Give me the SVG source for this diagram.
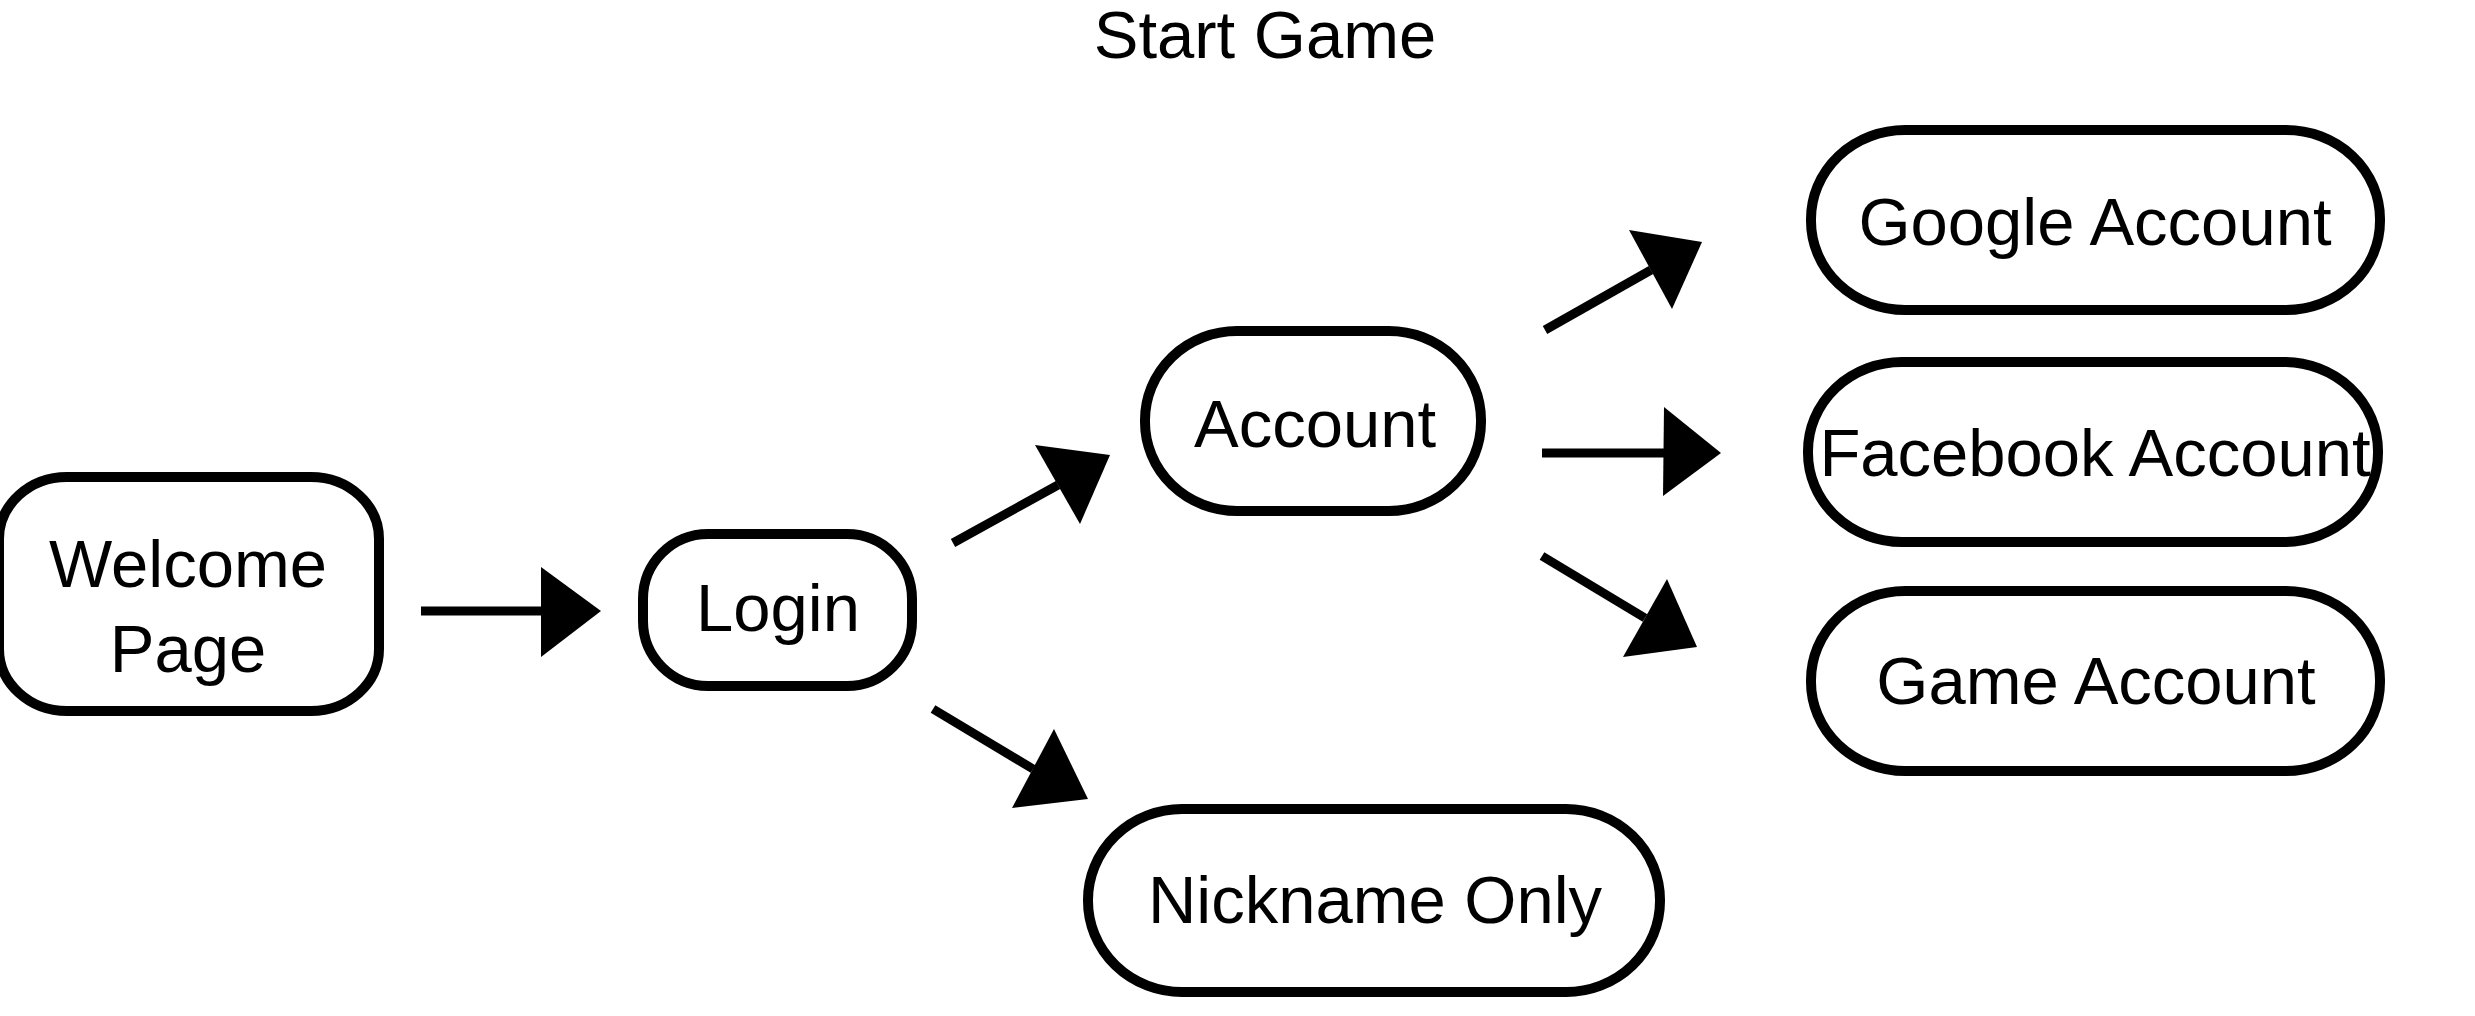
<svg xmlns="http://www.w3.org/2000/svg" width="2475" height="1016" viewBox="0 0 2475 1016">
<style>
.box{fill:#fff;stroke:#000;stroke-width:10}
.lbl{font-family:"Liberation Sans",Arial,sans-serif;font-size:67px;fill:#000;text-anchor:middle}
.ln{stroke:#000;stroke-width:9;fill:none}
.hd{fill:#000;stroke:none}
</style>
<rect width="2475" height="1016" fill="#fff"/>
<text class="lbl" x="1265" y="58">Start Game</text>
<g id="welcome">
<rect class="box" x="-1" y="477" width="380" height="234" rx="68" ry="62"/>
<text class="lbl" x="188" y="587">Welcome</text>
<text class="lbl" x="188" y="672">Page</text>
</g>
<g id="login">
<rect class="box" x="643" y="534" width="269" height="152" rx="65" ry="65"/>
<text class="lbl" x="778" y="631">Login</text>
</g>
<g id="account">
<rect class="box" x="1145" y="331" width="336" height="180" rx="92" ry="89"/>
<text class="lbl" x="1315" y="447">Account</text>
</g>
<g id="nickname">
<rect class="box" x="1088" y="809" width="572" height="183" rx="94" ry="91"/>
<text class="lbl" x="1375" y="923">Nickname Only</text>
</g>
<g id="google">
<rect class="box" x="1811" y="130" width="569" height="180" rx="94" ry="89"/>
<text class="lbl" x="2095" y="245">Google Account</text>
</g>
<g id="facebook">
<rect class="box" x="1808" y="362" width="570" height="180" rx="94" ry="89"/>
<text class="lbl" x="2095" y="476">Facebook Account</text>
</g>
<g id="game">
<rect class="box" x="1811" y="591" width="569" height="180" rx="94" ry="89"/>
<text class="lbl" x="2096" y="704">Game Account</text>
</g>
<g id="connectors">
<line class="ln" x1="421" y1="611" x2="545" y2="611"/>
<polygon class="hd" points="541,567 601,611 541,657"/>
<line class="ln" x1="953" y1="543" x2="1058" y2="485"/>
<polygon class="hd" points="1035,445 1110,455 1080,524"/>
<line class="ln" x1="933" y1="709" x2="1033" y2="769"/>
<polygon class="hd" points="1054,729 1088,799 1012,808"/>
<line class="ln" x1="1545" y1="330" x2="1651" y2="270"/>
<polygon class="hd" points="1629,230 1702,242 1672,309"/>
<line class="ln" x1="1542" y1="453" x2="1666" y2="453"/>
<polygon class="hd" points="1664,407 1721,453 1663,496"/>
<line class="ln" x1="1542" y1="556" x2="1645" y2="618"/>
<polygon class="hd" points="1667,579 1697,647 1623,657"/>
</g>
</svg>
